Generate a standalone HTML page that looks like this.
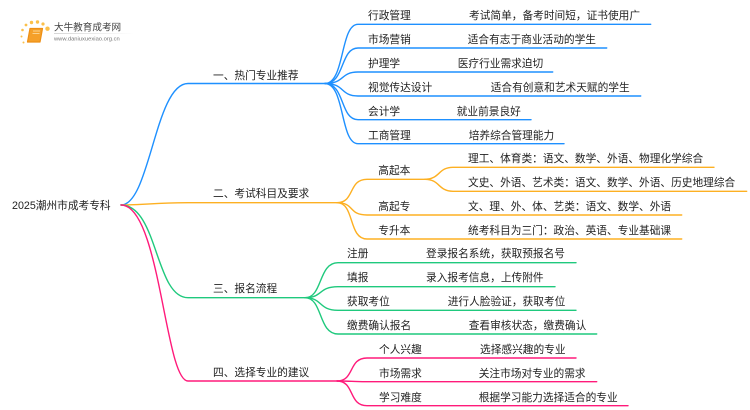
<!DOCTYPE html>
<html><head><meta charset="utf-8"><style>
html,body{margin:0;padding:0;background:#fff;width:750px;height:410px;overflow:hidden}
svg{display:block;filter:blur(.3px)}
text{font-family:"Liberation Sans","Noto Sans CJK SC",sans-serif;font-size:10.7px;fill:#222}
.l{fill:none;stroke-width:1.4;stroke-linecap:round}
</style></head><body>
<svg width="750" height="410" viewBox="0 0 750 410" xmlns="http://www.w3.org/2000/svg">
<defs><linearGradient id="g" x1="0" x2="1"><stop offset="0" stop-color="#ccc"/><stop offset="1" stop-color="#fff"/></linearGradient></defs>
<!-- logo -->
<g fill="#fbc04a"><circle cx="22.5" cy="30" r="1.3"/><circle cx="26" cy="25" r="1.4"/><circle cx="31.5" cy="22.5" r="1.7"/><circle cx="37.5" cy="22" r="1.7"/><circle cx="43" cy="24" r="1.6"/><circle cx="47.5" cy="28.7" r="2.2"/><circle cx="21.5" cy="36.5" r="1"/><circle cx="23.5" cy="42.5" r="1"/></g>
<path d="M30 28.500H42.500L40 42H27.500Z" fill="#f5a02a" stroke="#ee8f14" stroke-width="1.200" stroke-linejoin="round"/>
<path d="M33 31H40M32.500 33.500H39.500" stroke="#fde3b0" stroke-width=".8"/>
<rect x="54" y="33" width="80" height=".8" fill="url(#g)"/>
<text x="54" y="30.300" style="font-size:9.600px;fill:#444">大牛教育成考网</text>
<text x="54" y="40.600" style="font-size:5.800px;fill:#777">www.daniuxuexiao.org.cn</text>
<!-- blue -->
<g>
<path class="l" stroke="#1e90ff" d="M121 205C150 205 155 83.500 188 83.500H325"/>
<path class="l" stroke="#1e90ff" d="M325 83.500C345 83.500 340 24.300 358 24.300H650.700"/>
<path class="l" stroke="#1e90ff" d="M325 83.500C345 83.500 340 48 358 48H606.700"/>
<path class="l" stroke="#1e90ff" d="M325 83.500C345 83.500 340 72 358 72H552.700"/>
<path class="l" stroke="#1e90ff" d="M325 83.500C345 83.500 340 96 358 96H640.700"/>
<path class="l" stroke="#1e90ff" d="M325 83.500C345 83.500 340 119.700 358 119.700H531"/>
<path class="l" stroke="#1e90ff" d="M325 83.500C345 83.500 340 143.700 358 143.700H564"/>
</g>
<!-- orange -->
<g>
<path class="l" stroke="#fdb022" d="M121 205C150 205 150 202.700 188 202.700H337"/>
<path class="l" stroke="#fdb022" d="M337 202.700C355 202.700 348 179.300 367 179.300H425"/>
<path class="l" stroke="#fdb022" d="M337 202.700C355 202.700 348 215 367 215H681.700"/>
<path class="l" stroke="#fdb022" d="M337 202.700C355 202.700 348 239 367 239H681.700"/>
<path class="l" stroke="#fdb022" d="M425 179.300C440 179.300 438 167.300 453 167.300H714"/>
<path class="l" stroke="#fdb022" d="M425 179.300C440 179.300 438 191.300 453 191.300H746.700"/>
</g>
<!-- green -->
<g>
<path class="l" stroke="#1fc97d" d="M121 205C158 205 155 297.700 188 297.700H305"/>
<path class="l" stroke="#1fc97d" d="M305 297.700C323 297.700 318 262.700 338 262.700H576"/>
<path class="l" stroke="#1fc97d" d="M305 297.700C323 297.700 318 286.700 338 286.700H555"/>
<path class="l" stroke="#1fc97d" d="M305 297.700C323 297.700 318 310.300 338 310.300H576"/>
<path class="l" stroke="#1fc97d" d="M305 297.700C323 297.700 318 334 338 334H596.700"/>
</g>
<!-- pink -->
<g>
<path class="l" stroke="#ff1a7a" d="M121 205C160 205 165 381 188 381H337"/>
<path class="l" stroke="#ff1a7a" d="M337 381C355 381 348 358 367 358H576"/>
<path class="l" stroke="#ff1a7a" d="M337 381C355 381 348 381.700 367 381.700H596.700"/>
<path class="l" stroke="#ff1a7a" d="M337 381C355 381 348 405.700 367 405.700H628"/>
</g>
<!-- labels -->
<text x="12" y="209">2025潮州市成考专科</text>
<text x="213" y="79">一、热门专业推荐</text>
<text x="213" y="197">二、考试科目及要求</text>
<text x="213" y="292">三、报名流程</text>
<text x="213" y="376">四、选择专业的建议</text>
<text x="368" y="19">行政管理</text>
<text x="368" y="43">市场营销</text>
<text x="368" y="67">护理学</text>
<text x="368" y="91">视觉传达设计</text>
<text x="368" y="115">会计学</text>
<text x="368" y="139">工商管理</text>
<text x="469" y="19">考试简单，备考时间短，证书使用广</text>
<text x="467.700" y="43">适合有志于商业活动的学生</text>
<text x="457.700" y="67">医疗行业需求迫切</text>
<text x="490.700" y="91">适合有创意和艺术天赋的学生</text>
<text x="456.700" y="115">就业前景良好</text>
<text x="468.700" y="139">培养综合管理能力</text>
<text x="378.300" y="174">高起本</text>
<text x="378.300" y="210">高起专</text>
<text x="378.300" y="234">专升本</text>
<text x="468" y="162">理工、体育类：语文、数学、外语、物理化学综合</text>
<text x="468" y="186">文史、外语、艺术类：语文、数学、外语、历史地理综合</text>
<text x="468" y="210">文、理、外、体、艺类：语文、数学、外语</text>
<text x="468" y="234">统考科目为三门：政治、英语、专业基础课</text>
<text x="347" y="257">注册</text>
<text x="347" y="281">填报</text>
<text x="347" y="305">获取考位</text>
<text x="347" y="329">缴费确认报名</text>
<text x="426" y="257">登录报名系统，获取预报名号</text>
<text x="426" y="281">录入报考信息，上传附件</text>
<text x="447.700" y="305">进行人脸验证，获取考位</text>
<text x="468.700" y="329">查看审核状态，缴费确认</text>
<text x="379" y="353">个人兴趣</text>
<text x="379" y="377">市场需求</text>
<text x="379" y="401">学习难度</text>
<text x="480" y="353">选择感兴趣的专业</text>
<text x="478.700" y="377">关注市场对专业的需求</text>
<text x="478.700" y="401">根据学习能力选择适合的专业</text>
</svg>
</body></html>
